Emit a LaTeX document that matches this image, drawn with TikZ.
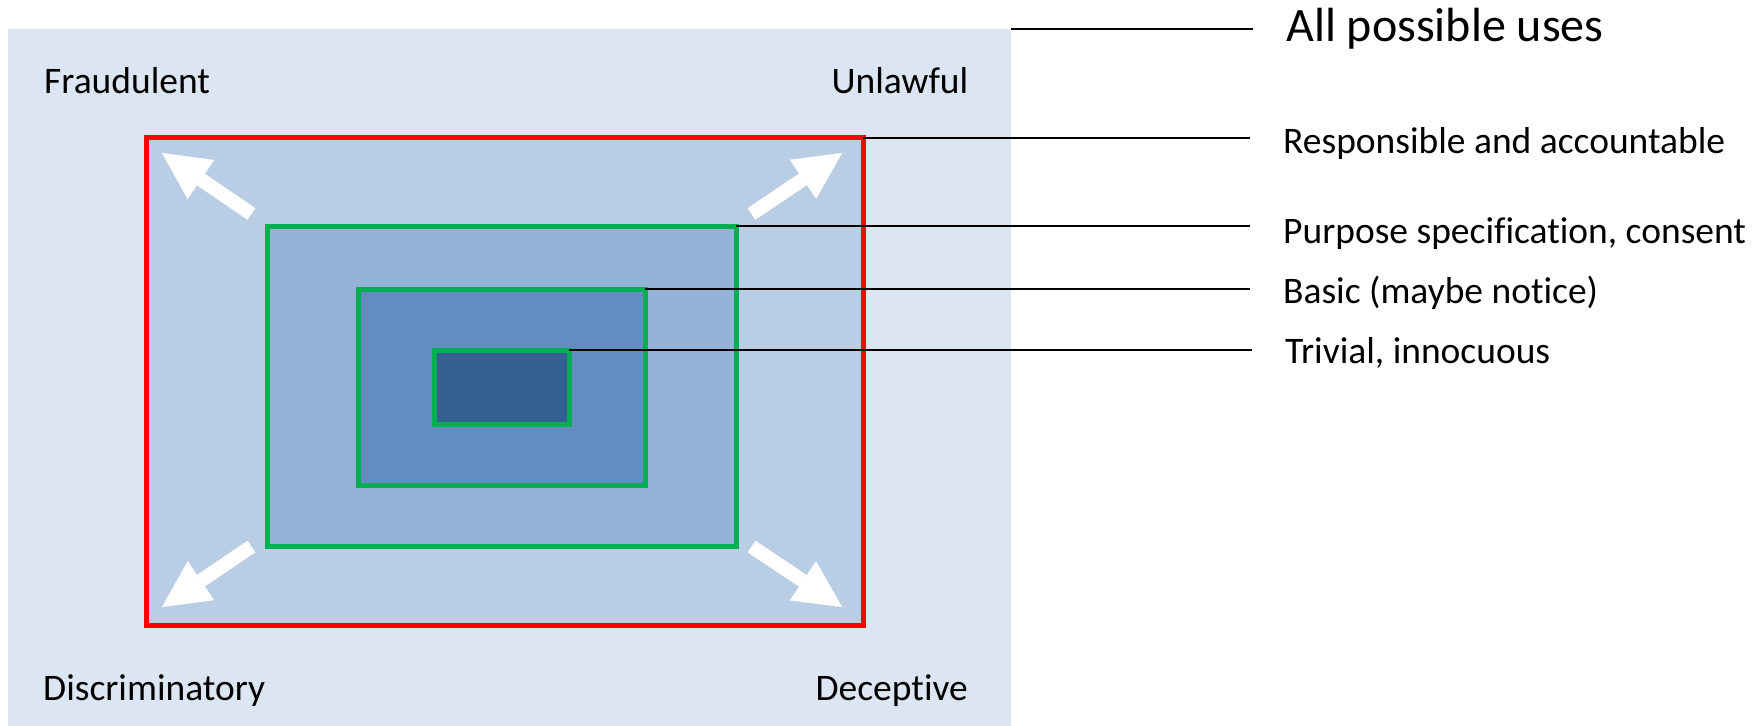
\documentclass[tikz,border=0pt]{standalone}
\usepackage{fontspec}
\setmainfont{Carlito}[Ligatures={NoCommon,NoRare}]
\usetikzlibrary{arrows.meta}

\definecolor{usesblue}{HTML}{DCE6F2}
\definecolor{respblue}{HTML}{B9CDE5}
\definecolor{purpblue}{HTML}{95B3D7}
\definecolor{basicblue}{HTML}{638DC1}
\definecolor{trivblue}{HTML}{365F91}
\definecolor{okgreen}{HTML}{00B050}

\begin{document}
\begin{tikzpicture}[x=1pt,y=-1pt,
	box/.style={rectangle,inner sep=0pt,outer sep=0pt,line width=5pt,anchor=north west},
	lbl/.style={inner sep=0pt,anchor=base west,font=\fontsize{37.5}{45}\selectfont},
	lead/.style={line width=2pt,shorten >=33pt},
	bigarrow/.style={white,line width=14pt,-{Triangle[width=47pt,length=47pt,line width=0.1pt]}}]

\useasboundingbox (0,0) rectangle (1763,725);

\node[box,fill=usesblue,minimum width=1003pt,minimum height=700pt]   (all)   at (8,29)   {};
\node[box,draw=red,fill=respblue,minimum width=716.7pt,minimum height=487.8pt]   (resp)   at (146.3,137.7)   {};
\node[box,draw=okgreen,fill=purpblue,minimum width=468.7pt,minimum height=320pt]   (purp)   at (267.3,226)   {};
\node[box,draw=okgreen,fill=basicblue,minimum width=287pt,minimum height=196pt]   (basic)   at (358.3,289.3)   {};
\node[box,draw=okgreen,fill=trivblue,minimum width=135.3pt,minimum height=74.3pt]   (triv)   at (434,350)   {};

\node[lbl]   (fraud)   at (44,93)   {Fraudulent};
\node[lbl,anchor=base east]   (unlaw)   at (968.5,93)   {Unlawful};
\node[lbl]   (discr)   at (43,700)   {Discriminatory};
\node[lbl,anchor=base east]   (decep)   at (968,700)   {Deceptive};

\coordinate   (t1)   at (251.5,214);   \coordinate   (h1)   at (162,153);
\coordinate   (t2)   at (751.5,214);   \coordinate   (h2)   at (842,153);
\coordinate   (t3)   at (251.5,546.5);   \coordinate   (h3)   at (162,607);
\coordinate   (t4)   at (751.5,546.5);   \coordinate   (h4)   at (842,607);

\draw[bigarrow]   (t1) -- (h1);
\draw[bigarrow]   (t2) -- (h2);
\draw[bigarrow]   (t3) -- (h3);
\draw[bigarrow]   (t4) -- (h4);

\node[lbl,font=\fontsize{48}{58}\selectfont]   (lall)   at (1286,42)   {All possible uses};
\node[lbl]   (lresp)   at (1283,153)   {Responsible and accountable};
\node[lbl]   (lpurp)   at (1283,243)   {Purpose specification, consent};
\node[lbl]   (lbasic)   at (1283,303)   {Basic (maybe notice)};
\node[lbl]   (ltriv)   at (1285,363)   {Trivial, innocuous};

\draw[lead]   (all.north east) -- (all.north east -| lall.west);
\draw[lead]   (resp.north east) -- (resp.north east -| lresp.west);
\draw[lead]   (purp.north east) -- (purp.north east -| lpurp.west);
\draw[lead]   (basic.north east) -- (basic.north east -| lbasic.west);
\draw[lead]   (triv.north east) -- (triv.north east -| ltriv.west);

\end{tikzpicture}
\end{document}
